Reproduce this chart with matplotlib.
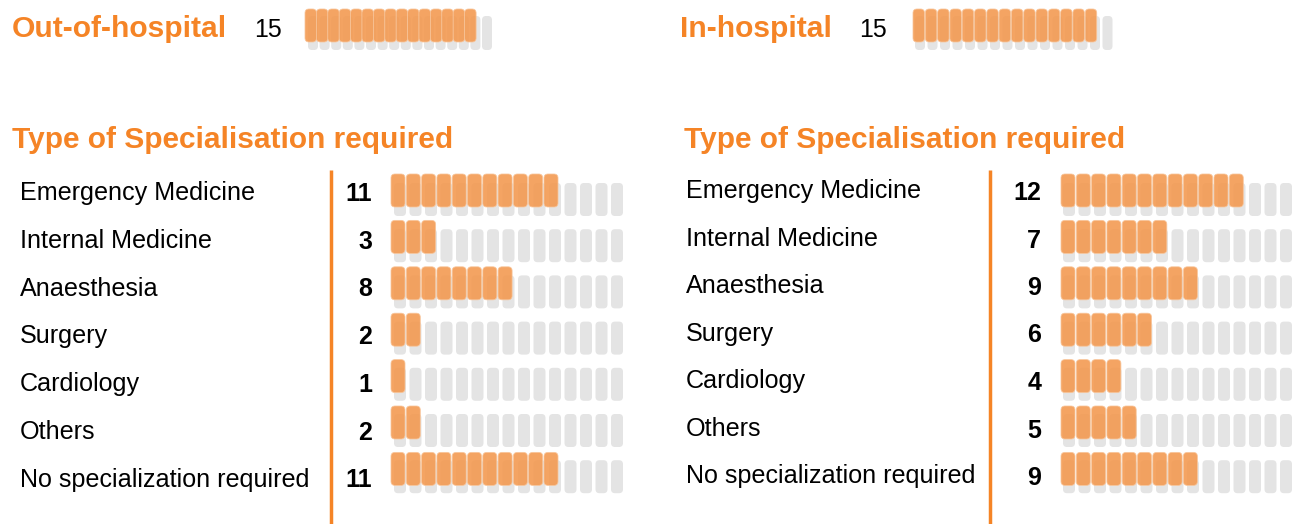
import matplotlib
matplotlib.use("Agg")
import matplotlib.pyplot as plt
from matplotlib.patches import FancyBboxPatch

plt.rcParams['font.family'] = ['Liberation Sans', 'DejaVu Sans']

# ---- data ----
panel_titles = ["Out-of-hospital", "In-hospital"]
panel_totals = [15, 15]
top_slots = 16
section_title = "Type of Specialisation required"
categories = ["Emergency Medicine", "Internal Medicine", "Anaesthesia", "Surgery",
              "Cardiology", "Others", "No specialization required"]
out_counts = [11, 3, 8, 2, 1, 2, 11]
in_counts = [12, 7, 9, 6, 4, 5, 9]
spec_slots = 15

ORANGE_TXT = "#F58426"
ORANGE = "#F39A52"
GRAY = "#E4E4E4"

fig = plt.figure(figsize=(12.98, 5.24), dpi=100)
ax = fig.add_axes([0, 0, 1, 1])
ax.set_xlim(0, 1298)
ax.set_ylim(524, 0)
ax.axis("off")


def icon(x, y, w, h, color, alpha=1.0, r=4, ec="none", lw=0):
    p = FancyBboxPatch((x, y), w, h, boxstyle=f"round,pad=0,rounding_size={r}",
                       facecolor=color, edgecolor=ec, linewidth=lw, alpha=alpha,
                       mutation_aspect=1)
    ax.add_patch(p)


def icon_row(n_filled, n_slots, gx, gy, gw, gh, pitch, ox, oy, ow, oh, opitch):
    for i in range(n_slots):
        icon(gx + i * pitch, gy, gw, gh, GRAY, r=4)
    for i in range(n_filled):
        icon(ox + i * opitch, oy, ow, oh, ORANGE, alpha=0.9, r=4,
             ec="#F8C59A", lw=0.6)


# ---- top headline rows ----
top_cfg = [
    dict(tx=12, nx=282, gx=308, gp=11.6, ox=305, op=11.4),
    dict(tx=680, nx=887, gx=915, gp=12.5, ox=913, op=12.3),
]
for k, cfg in enumerate(top_cfg):
    ax.text(cfg["tx"], 37, panel_titles[k], color=ORANGE_TXT, fontsize=21.6,
            fontweight="bold", ha="left", va="baseline")
    ax.text(cfg["nx"], 37, str(panel_totals[k]), color="black", fontsize=18,
            ha="right", va="baseline")
    icon_row(panel_totals[k], top_slots, cfg["gx"], 16, 10, 34, cfg["gp"],
             cfg["ox"], 9, 11.5, 33, cfg["op"])

# ---- specialisation sections ----
sec_cfg = [
    dict(title_x=12, lab_x=20, num_x=372, line_x=331, gx=394, ox=391,
         lab_y0=200, lab_dy=47.8, num_y0=201, num_dy=47.7, counts=out_counts),
    dict(title_x=684, lab_x=686, num_x=1041, line_x=990, gx=1063, ox=1061,
         lab_y0=198, lab_dy=47.5, num_y0=200, num_dy=47.5, counts=in_counts),
]
for cfg in sec_cfg:
    ax.text(cfg["title_x"], 148, section_title, color=ORANGE_TXT, fontsize=21.5,
            fontweight="bold", ha="left", va="baseline")
    ax.plot([cfg["line_x"], cfg["line_x"]], [170, 524], color=ORANGE_TXT,
            lw=2.5, solid_capstyle="butt")
    for i, (cat, c) in enumerate(zip(categories, cfg["counts"])):
        ax.text(cfg["lab_x"], cfg["lab_y0"] + i * cfg["lab_dy"], cat,
                color="black", fontsize=18.1, ha="left", va="baseline")
        ax.text(cfg["num_x"], cfg["num_y0"] + i * cfg["num_dy"], str(c),
                color="black", fontsize=18, fontweight="bold",
                ha="right", va="baseline")
        gy = 183 + i * 46.2
        oy = 174 + i * 46.4
        icon_row(c, spec_slots, cfg["gx"], gy, 12, 33, 15.5,
                 cfg["ox"], oy, 14, 33, 15.3)

fig.savefig("out.png", dpi=100)
